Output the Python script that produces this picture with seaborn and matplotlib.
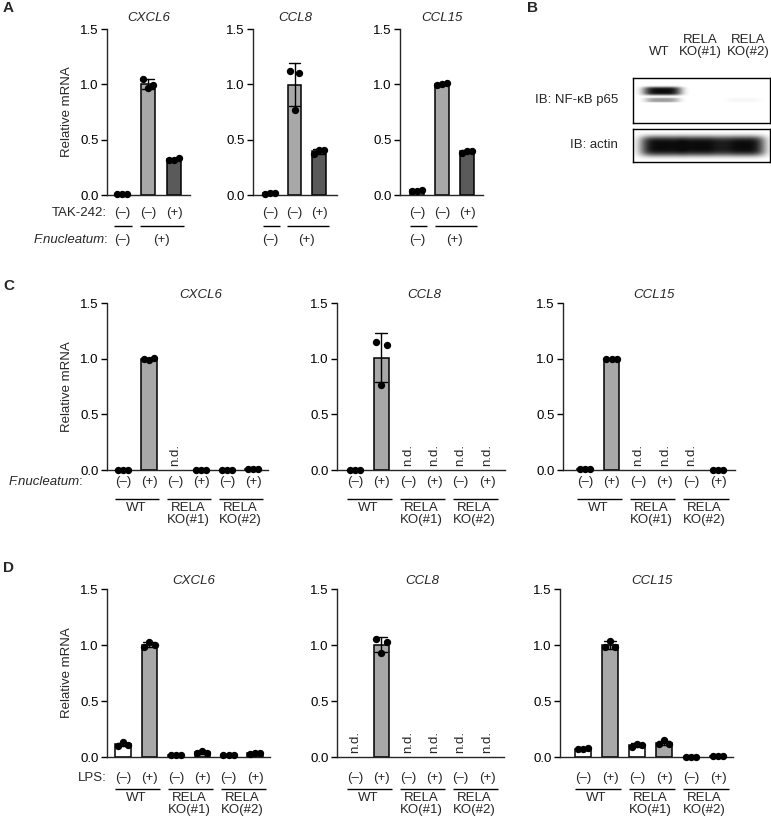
import numpy as np
import pandas as pd
import matplotlib
matplotlib.use("Agg")
import matplotlib.pyplot as plt
import matplotlib.transforms as mtrans
import seaborn as sns

# ---------------- data ----------------
GENES = ["CXCL6", "CCL8", "CCL15"]

# Panel A: conditions (ctrl, F.nucleatum, F.nucleatum + TAK-242)
A_TAK = ["(–)", "(–)", "(+)"]
A_FN = ["(–)", "(+)"]
A_FN_SPANS = [(0, 0), (1, 2)]
A_CXCL6 = [[0.01, 0.01, 0.01], [1.05, 0.97, 0.99], [0.32, 0.32, 0.33]]
A_CCL8 = [[0.01, 0.02, 0.02], [1.12, 0.77, 1.10], [0.37, 0.41, 0.41]]
A_CCL15 = [[0.04, 0.04, 0.045], [0.99, 1.00, 1.01], [0.38, 0.40, 0.40]]
A_COLORS = ["#ffffff", "#a8a8a8", "#5a5a5a"]

# Panels C/D: WT, RELA KO(#1), RELA KO(#2) x stimulus (-/+); None = n.d.
CD_TREAT = ["(–)", "(+)", "(–)", "(+)", "(–)", "(+)"]
CD_GROUPS = ["WT", "RELA\nKO(#1)", "RELA\nKO(#2)"]
CD_COLORS = ["#ffffff", "#a8a8a8", "#ffffff", "#a8a8a8", "#ffffff", "#a8a8a8"]

C_CXCL6 = [[0.004, 0.004, 0.004], [1.00, 0.99, 1.01], None,
           [0.004, 0.004, 0.004], [0.004, 0.004, 0.004], [0.012, 0.012, 0.012]]
C_CCL8 = [[0.004, 0.004, 0.004], [1.15, 0.76, 1.12], None, None, None, None]
C_CCL15 = [[0.01, 0.01, 0.01], [1.00, 1.00, 1.00], None, None, None,
           [0.004, 0.004, 0.004]]

D_CXCL6 = [[0.10, 0.13, 0.11], [0.98, 1.03, 1.00], [0.02, 0.02, 0.02],
           [0.04, 0.05, 0.04], [0.02, 0.02, 0.02], [0.03, 0.04, 0.04]]
D_CCL8 = [None, [1.05, 0.93, 1.03], None, None, None, None]
D_CCL15 = [[0.07, 0.07, 0.08], [0.98, 1.04, 0.98], [0.085, 0.12, 0.105],
           [0.12, 0.15, 0.115], [0.004, 0.004, 0.004], [0.005, 0.005, 0.005]]

# Panel B: western blot band intensities per lane (WT, KO#1, KO#2)
B_LANES = ["WT", "RELA\nKO(#1)", "RELA\nKO(#2)"]
B_P65_MAIN = [1.0, 0.0, 0.0]
B_P65_LOWER = [0.40, 0.0, 0.04]
B_ACTIN = [1.0, 1.0, 1.0]

# ---------------- style ----------------
sns.set_theme(style="ticks")
plt.rcParams["font.family"] = ["Liberation Sans", "DejaVu Sans"]

W, H = 771, 822
fig = plt.figure(figsize=(W / 100, H / 100), dpi=100)
FS = 9.5
FS_SMALL = 9.5


def fy(ypx):
    return 1 - ypx / H


def fx(xpx):
    return xpx / W


def make_ax(x0, x1, y0, y1, first_px, sp_px):
    ax = fig.add_axes([fx(x0), fy(y1), (x1 - x0) / W, (y1 - y0) / H])
    return ax, (-(first_px - x0) / sp_px, (x1 - first_px) / sp_px)


def draw_bars(ax, values, colors, xlim, title, title_x, title_dy, ylabel, bar_w):
    keys = [f"c{i}" for i in range(len(values))]
    rows, pts = [], []
    for i, (k, v) in enumerate(zip(keys, values)):
        if v is None:
            continue
        for r, val in enumerate(v):
            rows.append({"cond": k, "value": val})
            pts.append({"x": i + (r - 1) * 0.2, "y": val})
    df = pd.DataFrame(rows)
    present = [k for k, v in zip(keys, values) if v is not None]
    pal = {k: c for k, c, v in zip(keys, colors, values) if v is not None}
    sns.barplot(data=df, x="cond", y="value", order=keys, hue="cond",
                hue_order=present, palette=pal, dodge=False, legend=False,
                errorbar="sd", capsize=0.45, width=bar_w,
                err_kws={"color": "black", "linewidth": 1.0},
                edgecolor="black", linewidth=1.1, ax=ax)
    pdf = pd.DataFrame(pts)
    sns.scatterplot(data=pdf, x="x", y="y", color="black", s=28,
                    edgecolor="black", linewidth=0, zorder=5, clip_on=False,
                    legend=False, ax=ax)
    for i, v in enumerate(values):
        if v is None:
            ax.text(i, 0.04, "n.d.", rotation=90, ha="center", va="bottom",
                    fontsize=FS_SMALL)
    ax.set_xlim(*xlim)
    ax.set_ylim(0, 1.5)
    ax.set_yticks([0, 0.5, 1.0, 1.5])
    ax.set_yticklabels(["0.0", "0.5", "1.0", "1.5"], fontsize=FS)
    ax.set_xticks([])
    ax.set_xlabel("")
    ax.set_ylabel(ylabel, fontsize=FS, labelpad=5)
    for s in ["top", "right"]:
        ax.spines[s].set_visible(False)
    ax.spines["left"].set_linewidth(1.0)
    ax.spines["bottom"].set_linewidth(1.0)
    ax.tick_params(axis="y", length=4, width=1.0, pad=2, colors="black")
    ax.text(title_x, 1 + title_dy, title, transform=ax.transAxes,
            ha="center", va="center", fontsize=FS, style="italic")


def row_text(ax, labels, ypx, fs=FS_SMALL):
    tr = mtrans.blended_transform_factory(ax.transData, fig.transFigure)
    for i, lab in enumerate(labels):
        ax.text(i, fy(ypx), lab, transform=tr, ha="center", va="center",
                fontsize=fs, clip_on=False)


def span_line(ax, a, b, ypx):
    tr = mtrans.blended_transform_factory(ax.transData, fig.transFigure)
    ax.plot([a - 0.3, b + 0.4], [fy(ypx), fy(ypx)], transform=tr,
            color="black", lw=1.0, clip_on=False, solid_capstyle="butt")


def fn_label(xr, ypx):
    # non-italic colon, italic species name just before it
    fig.text(fx(xr), fy(ypx), ":", ha="right", va="center", fontsize=FS_SMALL)
    fig.text(fx(xr - 2.5), fy(ypx), "F.nucleatum", ha="right", va="center",
             fontsize=FS_SMALL, style="italic")


# ---------------- Panel A ----------------
A_layout = [(107, 190, 122, 26), (253, 337, 270, 24.5), (400, 483, 417, 25)]
A_vals = [A_CXCL6, A_CCL8, A_CCL15]
for j, (g, vals, (x0, x1, f, sp)) in enumerate(zip(GENES, A_vals, A_layout)):
    ax, xl = make_ax(x0, x1, 29, 195, f, sp)
    draw_bars(ax, vals, A_COLORS, xl, g, 0.5, 11 / 166,
              "Relative mRNA" if j == 0 else "", 0.55)
    row_text(ax, A_TAK, 213)
    for a, b in A_FN_SPANS:
        span_line(ax, a, b, 226)
    tr = mtrans.blended_transform_factory(ax.transData, fig.transFigure)
    for lab, (a, b) in zip(A_FN, A_FN_SPANS):
        ax.text((a + b) / 2, fy(240), lab, transform=tr, ha="center",
                va="center", fontsize=FS_SMALL)
    if j == 0:
        fig.text(fx(107), fy(213), "TAK-242:", ha="right", va="center",
                 fontsize=FS_SMALL)
        fn_label(107, 240)

# ---------------- Panels C and D ----------------
C_layout = [(107, 268, 123, 26), (337, 505, 355, 26.4), (563, 735, 585, 26.6)]
D_layout = [(107, 270, 123, 26.4), (337, 504, 355, 26.4), (560, 733, 583, 27)]
C_vals = [C_CXCL6, C_CCL8, C_CCL15]
D_vals = [D_CXCL6, D_CCL8, D_CCL15]
C_title_x = [0.58, 0.52, 0.53]
D_title_x = [0.53, 0.51, 0.53]

for panel, layout, vals_list, tx, ytop, ybot, rows in [
        ("C", C_layout, C_vals, C_title_x, 303, 470, (482, 499, 510, 523)),
        ("D", D_layout, D_vals, D_title_x, 589, 757, (778, 789, 800, 815))]:
    for j, (g, vals, (x0, x1, f, sp)) in enumerate(zip(GENES, vals_list, layout)):
        ax, xl = make_ax(x0, x1, ytop, ybot, f, sp)
        draw_bars(ax, vals, CD_COLORS, xl, g, tx[j], 8 / 167,
                  "Relative mRNA" if j == 0 else "", 0.58)
        r_treat, r_line, r_g1, r_g2 = rows
        row_text(ax, CD_TREAT, r_treat)
        tr = mtrans.blended_transform_factory(ax.transData, fig.transFigure)
        for k, lab in enumerate(CD_GROUPS):
            span_line(ax, 2 * k, 2 * k + 1, r_line)
            ax.text(2 * k + 0.5, fy(r_line + 3), lab, transform=tr,
                    ha="center", va="top", fontsize=FS_SMALL,
                    linespacing=0.95)
        if j == 0:
            if panel == "C":
                fn_label(82, r_treat)
            else:
                fig.text(fx(107), fy(r_treat), "LPS:", ha="right",
                         va="center", fontsize=FS_SMALL)

# ---------------- Panel B (western blot) ----------------
def blot_image(h_px, w_px, bands):
    yy, xx = np.mgrid[0:h_px, 0:w_px]
    img = np.zeros((h_px, w_px))
    lane_x = np.array([0.21, 0.50, 0.80]) * w_px
    for (intens, yc, hh, ww) in bands:
        for lx, it in zip(lane_x, intens):
            img += it * np.exp(-(((xx - lx) / ww) ** 4 + ((yy - yc) / hh) ** 4))
    return 1 - np.clip(img, 0, 1) * 0.96

b1 = fig.add_axes([fx(633), fy(123), 137 / W, 45 / H])
img1 = blot_image(45, 137,
                  [(B_P65_MAIN, 12.5, 4.2, 19), (B_P65_LOWER, 21.5, 2.3, 17)])
b1.imshow(img1, cmap="gray", vmin=0, vmax=1, aspect="auto",
          interpolation="bilinear")
b2 = fig.add_axes([fx(633), fy(162), 137 / W, 33 / H])
img2 = blot_image(33, 137, [(B_ACTIN, 16.5, 10.0, 22)])
b2.imshow(img2, cmap="gray", vmin=0, vmax=1, aspect="auto",
          interpolation="bilinear")
for b in (b1, b2):
    b.set_xticks([])
    b.set_yticks([])
    for s in b.spines.values():
        s.set_visible(True)
        s.set_linewidth(1.0)
        s.set_color("black")

for lx, lab in zip([659, 700, 748], B_LANES):
    fig.text(fx(lx), fy(58), lab, ha="center", va="bottom", fontsize=FS,
             linespacing=0.95)
fig.text(fx(618), fy(100), "IB: NF-κB p65", ha="right", va="center",
         fontsize=FS)
fig.text(fx(618), fy(145), "IB: actin", ha="right", va="center", fontsize=FS)

# ---------------- panel letters ----------------
for lab, x, y in [("A", 3, 8), ("B", 527, 8), ("C", 3, 286), ("D", 3, 568)]:
    fig.text(fx(x), fy(y), lab, ha="left", va="center", fontsize=11,
             fontweight="bold")

fig.savefig("out.png", dpi=100)
